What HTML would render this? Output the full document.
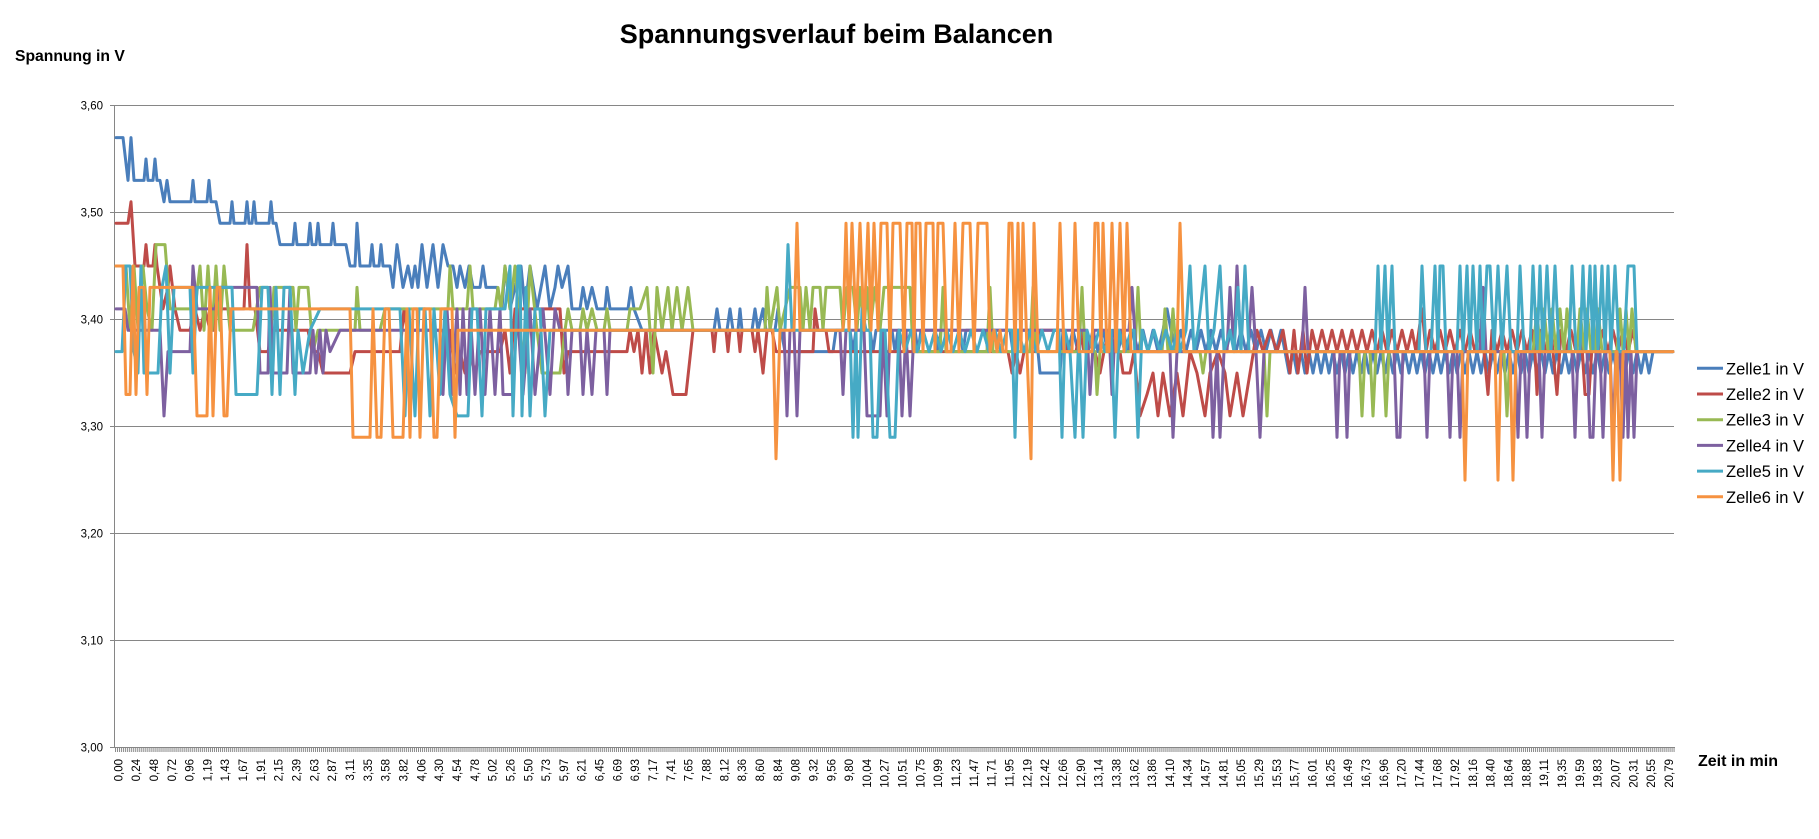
<!DOCTYPE html>
<html><head><meta charset="utf-8"><style>
html,body{margin:0;padding:0;background:#fff;}
svg{display:block;}
text{font-family:"Liberation Sans",Arial,sans-serif;fill:#000;}
.t{font-size:11.5px;fill:#1a1a1a;}
.s path{fill:none;stroke-width:3;stroke-linejoin:round;stroke-linecap:round;}
</style></head><body>
<svg width="1819" height="839" viewBox="0 0 1819 839" xmlns="http://www.w3.org/2000/svg">
<defs>
<pattern id="tk" patternUnits="userSpaceOnUse" x="115" y="748" width="1.9804" height="5"><rect x="0" y="0" width="1" height="5" fill="#8a8a8a"/></pattern>
</defs>
<rect width="1819" height="839" fill="#fff"/>
<text x="836.5" y="43" text-anchor="middle" style="font-size:27px;font-weight:bold">Spannungsverlauf beim Balancen</text>
<text x="15" y="61" style="font-size:15.7px;font-weight:bold">Spannung in V</text>
<text x="1698" y="766" style="font-size:16px;font-weight:bold">Zeit in min</text>
<g stroke="#868686" stroke-width="1">
<line x1="110" y1="105.5" x2="1674" y2="105.5"/>
<line x1="110" y1="212.5" x2="1674" y2="212.5"/>
<line x1="110" y1="319.5" x2="1674" y2="319.5"/>
<line x1="110" y1="426.5" x2="1674" y2="426.5"/>
<line x1="110" y1="533.5" x2="1674" y2="533.5"/>
<line x1="110" y1="640.5" x2="1674" y2="640.5"/>
<line x1="110" y1="747.5" x2="1675" y2="747.5"/>
<line x1="114.5" y1="105" x2="114.5" y2="748"/>
</g>
<rect x="115" y="748" width="1560" height="4" fill="url(#tk)"/>
<g class="t" text-anchor="end">
<text x="103" y="109.5">3,60</text>
<text x="103" y="216.5">3,50</text>
<text x="103" y="323.5">3,40</text>
<text x="103" y="430.5">3,30</text>
<text x="103" y="537.5">3,20</text>
<text x="103" y="644.5">3,10</text>
<text x="103" y="751.5">3,00</text>
</g>
<g class="t" text-anchor="end">
<text transform="translate(122.3,759) rotate(-90)">0,00</text>
<text transform="translate(140.1,759) rotate(-90)">0,24</text>
<text transform="translate(157.9,759) rotate(-90)">0,48</text>
<text transform="translate(175.8,759) rotate(-90)">0,72</text>
<text transform="translate(193.6,759) rotate(-90)">0,96</text>
<text transform="translate(211.4,759) rotate(-90)">1,19</text>
<text transform="translate(229.2,759) rotate(-90)">1,43</text>
<text transform="translate(247.1,759) rotate(-90)">1,67</text>
<text transform="translate(264.9,759) rotate(-90)">1,91</text>
<text transform="translate(282.7,759) rotate(-90)">2,15</text>
<text transform="translate(300.5,759) rotate(-90)">2,39</text>
<text transform="translate(318.4,759) rotate(-90)">2,63</text>
<text transform="translate(336.2,759) rotate(-90)">2,87</text>
<text transform="translate(354.0,759) rotate(-90)">3,11</text>
<text transform="translate(371.8,759) rotate(-90)">3,35</text>
<text transform="translate(389.7,759) rotate(-90)">3,58</text>
<text transform="translate(407.5,759) rotate(-90)">3,82</text>
<text transform="translate(425.3,759) rotate(-90)">4,06</text>
<text transform="translate(443.1,759) rotate(-90)">4,30</text>
<text transform="translate(461.0,759) rotate(-90)">4,54</text>
<text transform="translate(478.8,759) rotate(-90)">4,78</text>
<text transform="translate(496.6,759) rotate(-90)">5,02</text>
<text transform="translate(514.4,759) rotate(-90)">5,26</text>
<text transform="translate(532.3,759) rotate(-90)">5,50</text>
<text transform="translate(550.1,759) rotate(-90)">5,73</text>
<text transform="translate(567.9,759) rotate(-90)">5,97</text>
<text transform="translate(585.7,759) rotate(-90)">6,21</text>
<text transform="translate(603.5,759) rotate(-90)">6,45</text>
<text transform="translate(621.4,759) rotate(-90)">6,69</text>
<text transform="translate(639.2,759) rotate(-90)">6,93</text>
<text transform="translate(657.0,759) rotate(-90)">7,17</text>
<text transform="translate(674.8,759) rotate(-90)">7,41</text>
<text transform="translate(692.7,759) rotate(-90)">7,65</text>
<text transform="translate(710.5,759) rotate(-90)">7,88</text>
<text transform="translate(728.3,759) rotate(-90)">8,12</text>
<text transform="translate(746.1,759) rotate(-90)">8,36</text>
<text transform="translate(764.0,759) rotate(-90)">8,60</text>
<text transform="translate(781.8,759) rotate(-90)">8,84</text>
<text transform="translate(799.6,759) rotate(-90)">9,08</text>
<text transform="translate(817.4,759) rotate(-90)">9,32</text>
<text transform="translate(835.3,759) rotate(-90)">9,56</text>
<text transform="translate(853.1,759) rotate(-90)">9,80</text>
<text transform="translate(870.9,759) rotate(-90)">10,04</text>
<text transform="translate(888.7,759) rotate(-90)">10,27</text>
<text transform="translate(906.6,759) rotate(-90)">10,51</text>
<text transform="translate(924.4,759) rotate(-90)">10,75</text>
<text transform="translate(942.2,759) rotate(-90)">10,99</text>
<text transform="translate(960.0,759) rotate(-90)">11,23</text>
<text transform="translate(977.9,759) rotate(-90)">11,47</text>
<text transform="translate(995.7,759) rotate(-90)">11,71</text>
<text transform="translate(1013.5,759) rotate(-90)">11,95</text>
<text transform="translate(1031.3,759) rotate(-90)">12,19</text>
<text transform="translate(1049.1,759) rotate(-90)">12,42</text>
<text transform="translate(1067.0,759) rotate(-90)">12,66</text>
<text transform="translate(1084.8,759) rotate(-90)">12,90</text>
<text transform="translate(1102.6,759) rotate(-90)">13,14</text>
<text transform="translate(1120.4,759) rotate(-90)">13,38</text>
<text transform="translate(1138.3,759) rotate(-90)">13,62</text>
<text transform="translate(1156.1,759) rotate(-90)">13,86</text>
<text transform="translate(1173.9,759) rotate(-90)">14,10</text>
<text transform="translate(1191.7,759) rotate(-90)">14,34</text>
<text transform="translate(1209.6,759) rotate(-90)">14,57</text>
<text transform="translate(1227.4,759) rotate(-90)">14,81</text>
<text transform="translate(1245.2,759) rotate(-90)">15,05</text>
<text transform="translate(1263.0,759) rotate(-90)">15,29</text>
<text transform="translate(1280.9,759) rotate(-90)">15,53</text>
<text transform="translate(1298.7,759) rotate(-90)">15,77</text>
<text transform="translate(1316.5,759) rotate(-90)">16,01</text>
<text transform="translate(1334.3,759) rotate(-90)">16,25</text>
<text transform="translate(1352.2,759) rotate(-90)">16,49</text>
<text transform="translate(1370.0,759) rotate(-90)">16,73</text>
<text transform="translate(1387.8,759) rotate(-90)">16,96</text>
<text transform="translate(1405.6,759) rotate(-90)">17,20</text>
<text transform="translate(1423.5,759) rotate(-90)">17,44</text>
<text transform="translate(1441.3,759) rotate(-90)">17,68</text>
<text transform="translate(1459.1,759) rotate(-90)">17,92</text>
<text transform="translate(1476.9,759) rotate(-90)">18,16</text>
<text transform="translate(1494.7,759) rotate(-90)">18,40</text>
<text transform="translate(1512.6,759) rotate(-90)">18,64</text>
<text transform="translate(1530.4,759) rotate(-90)">18,88</text>
<text transform="translate(1548.2,759) rotate(-90)">19,11</text>
<text transform="translate(1566.0,759) rotate(-90)">19,35</text>
<text transform="translate(1583.9,759) rotate(-90)">19,59</text>
<text transform="translate(1601.7,759) rotate(-90)">19,83</text>
<text transform="translate(1619.5,759) rotate(-90)">20,07</text>
<text transform="translate(1637.3,759) rotate(-90)">20,31</text>
<text transform="translate(1655.2,759) rotate(-90)">20,55</text>
<text transform="translate(1673.0,759) rotate(-90)">20,79</text>
</g>
<g class="s" transform="matrix(1 0 0 -10.704 0 747.7)">
<path vector-effect="non-scaling-stroke" stroke="#4A7EBB" d="M116,57 H123 L128,53 L131,57 L134,53 H144 L146,55 L148,53 H153 L155,55 L157,53 H160 L164,51 L167,53 L170,51 H191 L193,53 L195,51 H207 L209,53 L211,51 H216 L220,49 H230 L232,51 L234,49 H245 L247,51 L249,49 H252 L254,51 L256,49 H269 L271,51 L273,49 H276 L280,47 H293 L295,49 L297,47 H308 L310,49 L312,47 H316 L318,49 L320,47 H331 L333,49 L335,47 H346 L350,45 H355 L357,49 L360,45 H370 L372,47 L374,45 H379 L381,47 L383,45 H390 L393,43 L397,47 L403,43 L408,45 L412,43 L415,45 L418,43 L422,47 L427,43 L433,47 L438,43 L443,47 L448,45 H453 L457,43 L460,45 L465,43 L469,45 L473,43 H480 L483,45 L486,43 H497 L502,41 L505,45 L510,41 L515,43 L521,45 L525,41 L530,45 L537,41 L545,45 L550,41 L555,43 L558,45 L562,43 L568,45 L572,41 H580 L583,43 L587,41 L592,43 L597,41 H605 L607,43 L610,41 H628 L631,43 L634,41 L642,39 H714 L717,41 L720,39 H727 L730,41 L733,39 H738 L740,41 L742,39 H752 L755,41 L758,39 L763,41 L766,39 H775 L778,41 L781,39 L785,37 H833 L836,39 H850 L853,37 L856,39 H870 L873,37 L876,39 H892 L895,37 L898,39 H915 L918,37 L921,39 H935 L938,37 L941,39 H960 L963,37 L966,39 H985 L988,37 L991,39 H1010 L1013,37 L1016,39 H1036 L1040,35 H1060 L1063,39 l5,-2 l5,2 l5,-2 l5,2 l5,-2 l5,2 l5,-2 l5,2 l5,-2 l5,2 l5,-2 l5,2 l5,-2 l5,2 l5,-2 l5,2 l5,-2 l5,2 l5,-2 l5,2 l4,2 l4,-2 l5,-2 l5,2 l5,-2 l5,2 l5,-2 l5,2 l5,-2 l5,2 l5,-2 l5,2 l5,-2 l5,2 l5,-2 l5,2 l5,-2 l5,2 l5,-2 l5,2 l5,-2 l5,2 l5,-2 l5,2 L1285,37 l4,-2 l4,2 l4,-2 l4,2 l4,-2 l4,2 l4,-2 l4,2 l4,-2 l4,2 l4,-2 l4,2 l4,-2 l4,2 l4,-2 l4,2 l4,-2 l4,2 l4,-2 l4,2 l4,-2 l4,2 l4,-2 l4,2 l4,-2 l4,2 l4,-2 l4,2 l4,-2 l4,2 l4,-2 l4,2 l4,-2 l4,2 l4,-2 l4,2 l4,-2 l4,2 l4,-2 l4,2 l4,-2 l4,2 l4,-2 l4,2 l4,-2 l4,2 l4,-2 l4,2 l4,-2 l4,2 l4,-2 l4,2 l4,-2 l4,2 l4,-2 l4,2 l4,-2 l4,2 l4,-2 l4,2 l4,-2 l4,2 l4,-2 l4,2 l4,-2 l4,2 l4,-2 l4,2 l4,-2 l4,2 l4,-2 l4,2 l4,-2 l4,2 l4,-2 l4,2 l4,-2 l4,2 l4,-2 l4,2 l4,-2 l4,2 l4,-2 l4,2 l4,-2 l4,2 l4,-2 l4,2 l4,-2 l4,2 l4,-2 l4,2 H1673"/>
<path vector-effect="non-scaling-stroke" stroke="#BE4B48" d="M116,49 H128 L131,51 L135,45 H144 L146,47 L148,45 H153 L155,47 L157,45 L163,41 L168,43 L170,45 L175,41 L180,39 H190 L195,41 L200,39 L205,41 L210,39 H214 L217,43 L220,41 H244 L247,47 L250,41 H255 L260,37 H268 L272,39 H308 L312,37 H318 L323,35 H350 L355,37 H400 L404,41 L407,39 H443 L447,37 L450,39 L455,35 L460,37 L465,35 L470,37 L475,35 L480,37 H500 L505,39 L510,35 L515,41 H560 L564,35 L568,37 H627 L630,39 L634,37 L638,39 L642,35 L646,39 L650,35 L654,39 L658,37 L662,35 L666,37 L673,33 H686 L693,39 H712 L714,37 L716,39 H726 L728,37 L730,39 H738 L740,37 L742,39 H752 L755,37 L758,39 L763,35 L767,39 H772 L776,37 H813 L815,41 L818,39 H826 L829,37 H1008 L1012,35 L1016,37 L1020,35 L1024,37 H1036 L1040,39 H1063 L1066,37 H1076 L1080,39 L1084,37 H1095 L1100,35 L1104,37 L1110,39 L1114,37 H1120 L1123,35 H1130 L1134,37 L1140,31 L1147,33 L1153,35 L1158,31 L1163,35 L1170,31 L1177,35 L1183,31 L1190,37 L1197,35 L1205,31 L1210,35 L1218,37 L1225,35 L1230,31 L1237,35 L1243,31 L1250,35 L1257,39 L1263,37 L1270,39 L1277,37 L1283,39 L1290,35 L1294,39 L1298,35 L1303,39 L1307,35 L1312,39 l5,-2 l5,2 l5,-2 l5,2 l5,-2 l5,2 l5,-2 l5,2 l5,-2 l5,2 l5,-2 l5,2 l5,-2 l5,2 l5,-2 l5,2 l5,-2 l5,2 l5,-2 l5,2 L1416,37 L1422,41 L1426,37 L1430,39 l5,-2 l5,2 l5,-2 l5,2 l5,-2 l5,2 l5,-2 l5,2 l5,-2 l5,2 L1484,37 L1488,33 L1492,39 l5,-2 l5,2 l5,-2 l5,2 l5,-2 l5,2 l5,-2 l5,2 L1535,37 L1537,33 L1541,39 l5,-2 l5,2 L1557,33 L1561,39 l5,-2 l5,2 l5,-2 l5,2 L1585,33 H1589 L1593,39 l5,-2 l5,2 l5,-2 l5,2 l5,-2 l5,2 l5,-2 l5,2 L1637,37 H1673"/>
<path vector-effect="non-scaling-stroke" stroke="#98B954" d="M116,45 H126 L130,39 L134,45 L138,39 L143,45 L147,41 L152,39 L156,47 H165 L170,41 H195 L200,45 L204,39 L208,45 L212,39 L216,45 L220,39 L224,45 L230,39 H253 L260,43 H268 L271,39 L274,43 H293 L296,39 L299,43 H308 L313,37 L318,39 H355 L357,43 L360,39 H380 L385,41 H448 L450,45 L453,41 H467 L470,45 L473,41 H495 L498,43 L501,41 L505,45 L510,41 L515,45 L520,39 L525,35 L530,45 L537,39 L542,35 H560 L565,39 L568,41 L572,39 H580 L583,41 L587,39 L592,41 L597,39 H604 L607,41 L610,39 H627 L630,41 H640 L647,43 L653,35 L657,43 L662,39 L668,43 L672,39 L677,43 L682,39 L688,43 L693,39 H765 L767,43 L770,39 L777,43 L780,39 L790,43 H800 L803,39 L806,43 L810,39 L813,43 H820 L823,39 L826,43 H840 L843,39 L847,43 H853 L857,39 L860,43 L864,39 L867,43 L870,39 L875,43 L880,39 L884,43 H910 L913,37 H940 L943,43 L946,37 H987 L990,43 L993,37 H1030 L1033,43 L1036,37 H1079 L1082,43 L1085,37 H1095 L1097,33 L1100,37 H1135 L1138,43 L1141,37 H1162 L1165,41 L1168,37 H1170 L1173,41 L1176,37 H1200 L1203,35 L1206,37 H1264 L1267,31 L1270,37 H1359 L1362,31 L1365,37 H1370 L1373,31 L1376,37 H1383 L1386,31 L1389,37 H1504 L1507,31 L1510,37 H1533 L1537,41 L1540,37 L1544,41 L1548,37 L1552,41 L1556,37 L1560,41 L1564,37 L1567,41 L1571,37 H1577 L1580,41 L1584,37 L1587,41 L1591,37 H1595 L1598,41 L1602,37 H1617 L1620,41 L1623,37 L1626,41 L1629,37 L1632,41 L1636,37 H1673"/>
<path vector-effect="non-scaling-stroke" stroke="#7D60A0" d="M116,41 H125 L128,39 H160 L164,31 L168,37 H190 L193,45 L197,41 H215 L220,43 H257 L260,35 H268 L270,43 L273,35 H287 L290,43 L293,35 H310 L313,39 L316,35 L320,39 L323,35 L326,39 L330,37 L340,39 H440 L443,33 L447,41 L452,33 L457,41 L460,33 L463,41 L467,33 L470,41 L475,33 L480,41 L485,33 L490,41 L495,33 L500,41 L503,33 H513 L517,41 L523,33 L530,41 L535,33 L543,41 L550,33 L555,41 L560,39 H565 L568,33 L572,39 H580 L583,33 L587,39 L592,33 L596,39 H604 L607,33 L610,39 H784 L787,31 L790,39 H794 L797,31 L800,39 H840 L843,33 L846,39 H864 L867,31 H880 L883,39 L887,31 L890,39 H899 L902,31 L906,39 L910,31 L914,39 H1087 L1090,33 L1094,39 H1109 L1112,33 L1115,39 H1129 L1132,43 L1136,37 H1170 L1173,29 L1177,37 H1210 L1213,29 L1217,37 L1220,29 L1224,37 H1227 L1230,43 L1234,37 L1237,45 L1241,37 H1248 L1252,43 L1256,37 L1260,29 L1264,37 H1302 L1305,43 L1308,37 H1334 L1337,29 L1340,37 H1344 L1347,29 L1350,37 H1394 L1397,29 L1400,29 L1403,37 H1424 L1427,29 L1430,37 H1447 L1450,29 L1453,37 H1457 L1460,29 L1463,37 H1480 L1483,43 L1486,37 H1515 L1518,29 L1521,37 H1524 L1527,29 L1530,37 H1539 L1542,29 L1545,37 H1572 L1575,29 L1578,37 H1587 L1590,29 L1593,29 L1596,37 H1600 L1603,29 L1606,37 H1610 L1613,29 L1616,37 H1620 L1623,29 L1626,37 L1628,29 L1631,37 L1634,29 L1637,37 H1673"/>
<path vector-effect="non-scaling-stroke" stroke="#46AAC5" d="M116,37 H122 L126,45 H130 L134,37 L138,35 L141,45 L144,35 H158 L162,43 L166,45 L170,35 L174,43 H190 L193,35 L197,43 H232 L236,33 H257 L262,43 H268 L272,33 L276,43 L280,33 L284,43 H290 L295,33 L298,39 L303,35 L310,39 L320,41 H400 L405,31 L409,41 L415,31 L419,41 H425 L430,31 L434,41 L440,33 L445,41 L450,33 L457,31 H468 L472,41 H477 L482,31 L486,41 H505 L510,45 L513,31 L518,45 H520 L522,31 L526,43 L530,31 L535,41 H540 L545,31 L550,39 H785 L788,47 L792,39 H850 L853,29 L856,39 L858,29 L862,41 L866,39 H870 L873,29 L877,29 L881,39 H885 L890,29 L895,29 L899,39 l6,-2 l6,2 l6,-2 l6,2 l6,-2 l6,2 l6,-2 l6,2 l6,-2 l6,2 l6,-2 l6,2 l6,-2 l6,2 l6,-2 l6,2 l6,-2 l6,2 H1012 L1015,29 L1018,39 l6,-2 l6,2 l6,-2 l6,2 l6,-2 l6,2 H1059 L1062,29 L1065,39 L1070,37 L1075,29 L1079,39 L1083,29 L1087,39 l6,-2 l6,2 l6,-2 l6,2 L1115,29 L1119,39 l6,-2 l6,2 L1134,39 L1138,29 L1142,39 l6,-2 l6,2 l6,-2 l6,2 l6,-2 l6,2 L1180,37 L1186,39 L1190,45 L1194,37 L1198,39 L1205,45 L1209,37 L1214,39 L1220,45 L1224,37 L1230,39 L1234,37 L1238,43 L1241,37 L1245,45 L1249,37 H1375 L1378,45 L1381,37 L1385,45 L1388,37 L1392,45 L1395,37 H1419 L1422,45 L1426,37 H1431 L1435,45 L1438,37 L1440,45 L1443,45 L1446,37 H1457 L1460,45 L1463,37 L1467,45 L1470,37 L1473,45 L1477,37 L1480,45 L1483,37 L1487,45 L1490,45 L1494,37 L1498,45 L1502,37 L1507,45 L1511,37 H1517 L1520,45 L1524,37 H1530 L1533,45 L1537,37 L1540,45 L1543,37 L1547,45 L1551,37 L1555,45 L1559,37 H1569 L1572,45 L1576,37 H1580 L1583,45 L1586,37 L1590,45 L1593,37 L1595,45 L1598,37 L1602,45 L1605,37 L1608,45 L1611,37 L1615,45 L1619,37 H1624 L1628,45 H1634 L1637,37 H1673"/>
<path vector-effect="non-scaling-stroke" stroke="#F69240" d="M116,45 H123 L126,33 H130 L133,45 L136,33 L139,43 H144 L147,33 L150,43 H193 L197,31 H207 L210,43 L213,31 L217,43 H220 L224,31 H227 L231,41 H350 L353,29 H370 L373,41 L377,29 H381 L385,41 H389 L393,29 H403 L407,41 L410,29 L413,41 H417 L420,29 L424,41 H430 L434,29 H437 L441,41 H452 L455,29 L458,39 H773 L776,27 L780,39 H794 L797,49 L800,39 H843 L846,49 L849,39 L852,49 L856,39 L860,49 L864,39 L868,49 L871,39 L874,49 L878,39 L881,49 H887 L890,37 L893,49 H900 L904,37 L907,49 H912 L914,37 L916,49 H920 L923,37 L926,49 H933 L935,37 L938,49 H943 L947,37 H951 L955,49 L959,37 L963,49 H970 L974,37 L978,49 H987 L990,37 L994,39 L997,37 L1000,39 L1003,37 H1006 L1009,49 H1012 L1015,37 L1018,49 L1021,37 L1023,49 L1027,37 L1031,27 L1034,49 L1038,37 H1057 L1060,49 L1064,37 H1072 L1075,49 L1079,37 H1092 L1095,49 H1098 L1101,37 L1103,49 L1107,37 H1109 L1112,49 L1116,37 L1120,49 L1124,37 L1127,49 L1131,37 H1177 L1180,49 L1184,37 H1462 L1465,25 L1468,37 H1495 L1498,25 L1501,37 H1510 L1513,25 L1516,37 H1610 L1613,25 L1616,37 H1617 L1620,25 L1623,37 H1673"/>
</g>
<g stroke-width="3">
<line x1="1697" y1="368.3" x2="1723" y2="368.3" stroke="#4A7EBB"/>
<line x1="1697" y1="394" x2="1723" y2="394" stroke="#BE4B48"/>
<line x1="1697" y1="419.7" x2="1723" y2="419.7" stroke="#98B954"/>
<line x1="1697" y1="445.4" x2="1723" y2="445.4" stroke="#7D60A0"/>
<line x1="1697" y1="471.1" x2="1723" y2="471.1" stroke="#46AAC5"/>
<line x1="1697" y1="496.8" x2="1723" y2="496.8" stroke="#F69240"/>
</g>
<g style="font-size:16.5px">
<text x="1726" y="374.3">Zelle1 in V</text>
<text x="1726" y="400">Zelle2 in V</text>
<text x="1726" y="425.7">Zelle3 in V</text>
<text x="1726" y="451.4">Zelle4 in V</text>
<text x="1726" y="477.1">Zelle5 in V</text>
<text x="1726" y="502.8">Zelle6 in V</text>
</g>
</svg>
</body></html>
